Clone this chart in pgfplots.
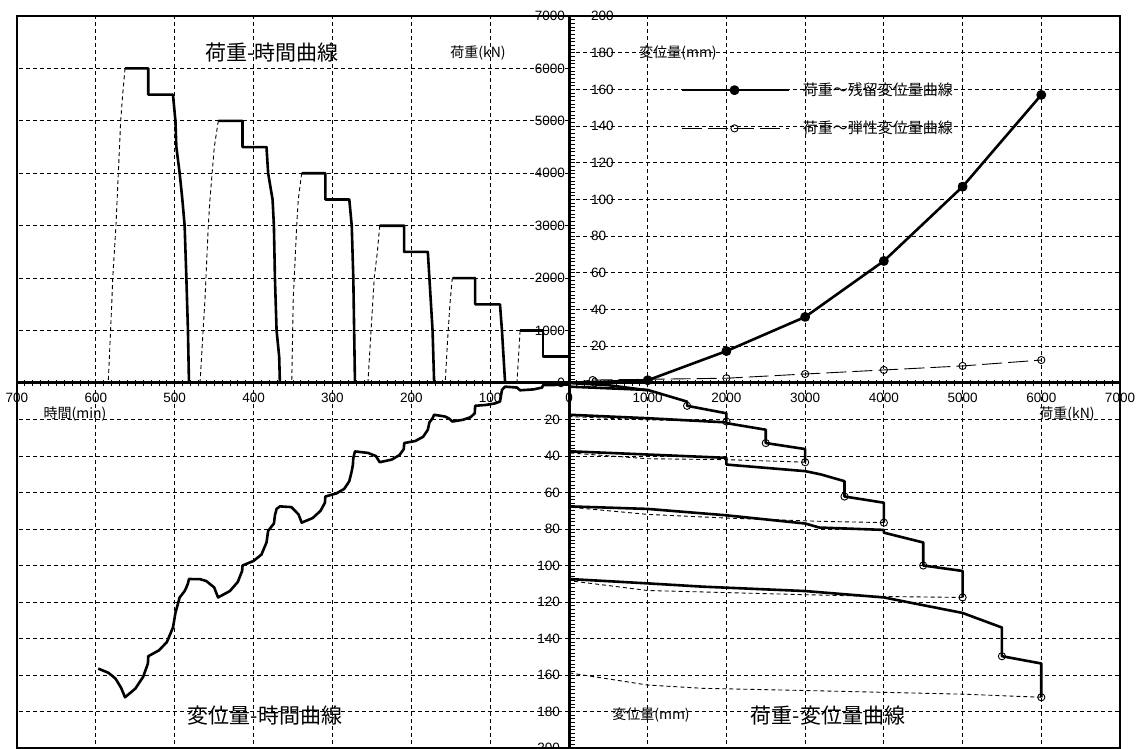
\documentclass[border=0pt]{standalone}
\usepackage{pgfplots}
\pgfplotsset{compat=1.18}
\usepackage{fontspec}
\setmainfont{Liberation Sans}
\newfontfamily\jp{Noto Sans CJK JP}
\begin{document}
\begin{tikzpicture}[x=1pt,y=1pt]
\useasboundingbox (0,0) rectangle (1148,749);
\pgfplotsset{
  quad/.style={
    scale only axis,
    axis line style={draw=none},
    grid=major,
    major grid style={black, line width=0.8pt, dash pattern=on 4pt off 3pt},
    tick style={black, line width=0.8pt},
    major tick length=6pt, minor tick length=6pt,
    tick align=center,
    ticklabel style={font=\fontsize{13.5}{13.5}\selectfont, inner sep=2pt},
    /pgf/number format/assume math mode=true,
    /pgf/number format/1000 sep={},
  },
  thk/.style={black, line width=2.6pt, line join=round},
  dsh/.style={black, line width=0.9pt, dash pattern=on 4pt off 3pt},
  eldash/.style={black, line width=0.9pt, dash pattern=on 20pt off 6pt},
}
% ---------- load - time (upper left) ----------
\begin{axis}[quad, at={(17pt,366pt)}, anchor=south west, width=552pt, height=367pt,
  xmin=0, xmax=700, x dir=reverse, ymin=0, ymax=7000,
  xtick={100,200,...,700}, ytick={0,1000,...,7000},
  minor x tick num=9, xtick pos=bottom,
  ytick style={draw=none}, yticklabel pos=right,
  yticklabel style={anchor=east, xshift=-5pt},
  xticklabel style={yshift=-5pt}]
\addplot[thk] coordinates {(0,0)(0,500)(33,500)(33,1000)(62,1000)};
\addplot[dsh] coordinates {(62,1000)(64,500)(66,0)};
\addplot[thk] coordinates {(81,0)(83,500)(85,1000)(87.5,1500)(119,1500)(119,2000)(148,2000)};
\addplot[dsh] coordinates {(148,2000)(151,1500)(154,800)(157,0)};
\addplot[thk] coordinates {(171,0)(173,1000)(175,1500)(177,2000)(179,2500)(209,2500)(209,3000)(240,3000)};
\addplot[dsh] coordinates {(240,3000)(243,2500)(247,2000)(251,1000)(255,0)};
\addplot[thk] coordinates {(271.4,0)(273.5,2000)(275.5,3000)(278.6,3500)(309,3500)(309,4000)(339,4000)};
\addplot[dsh] coordinates {(339,4000)(343.3,3500)(345.3,3000)(349.7,1600)(351.6,0)};
\addplot[thk] coordinates {(366.6,0)(367.5,500)(370.8,1000)(372.9,2000)(374.2,3000)(375.9,3500)(381.5,4000)(383.6,4500)(414,4500)(414,5000)(444.7,5000)};
\addplot[dsh] coordinates {(444.7,5000)(449.8,4500)(455.3,3500)(457.4,3000)(461.6,1600)(467.9,0)};
\addplot[thk] coordinates {(481.9,0)(483.2,1000)(485.2,2000)(487.4,3000)(490.3,3500)(493.7,4000)(497.9,4500)(499.1,5000)(502.2,5500)(533.5,5500)(533.5,6000)(563,6000)};
\addplot[dsh] coordinates {(563,6000)(566,5500)(568.5,5000)(571.5,4000)(574.5,3000)(578.6,2000)(580,1450)(584.3,0)};
\end{axis}
% ---------- load - residual / elastic displacement (upper right) ----------
\begin{axis}[quad, at={(569pt,366pt)}, anchor=south west, width=551pt, height=367pt,
  xmin=0, xmax=7000, ymin=0, ymax=200,
  xtick={0,1000,...,7000}, ytick={0,20,...,200},
  minor x tick num=9, minor y tick num=9,
  xtick pos=bottom, ytick pos=left,
  xtick align=center, ytick align=inside,
  yticklabel style={anchor=west, xshift=20pt},
  xticklabel style={yshift=-5pt},
  legend style={draw=none, fill=none, at={(0.196,0.826)}, anchor=north west,
    font=\jp\fontsize{15}{15}\selectfont, row sep=22pt,
    nodes={inner sep=1pt},
    /tikz/every odd column/.append style={column sep=12pt}},
  legend cell align=left,
  legend image code/.code={\draw[mark repeat=2,mark phase=2,#1] plot coordinates {(0pt,0pt)(53pt,0pt)(107pt,0pt)};}]
\addplot[thk, mark=*, mark size=3.6pt] coordinates {(1000,1.5)(2000,17.4)(3000,36)(4000,66.5)(5000,107)(6000,157)};
\addlegendentry{荷重～残留変位量曲線}
\addplot[eldash, mark=o, mark size=3.6pt, mark options={solid}] coordinates {(300,1.6)(2000,2.6)(3000,4.9)(4000,7.1)(5000,9.3)(6000,12.5)};
\addlegendentry{荷重～弾性変位量曲線}
% first stretch of both curves, from the origin
\addplot[thk, forget plot] coordinates {(0,0)(1000,1.5)};
\addplot[eldash, forget plot] coordinates {(0,0)(300,1.6)};
\end{axis}
% ---------- displacement - time (lower left) ----------
\begin{axis}[quad, at={(17pt,366pt)}, anchor=north west, width=552pt, height=365pt,
  xmin=0, xmax=700, x dir=reverse, ymin=0, ymax=200, y dir=reverse,
  xtick={100,200,...,700}, xticklabels={}, xtick style={draw=none},
  ytick={20,40,...,200}, yticklabel pos=right, ytick style={draw=none},
  yticklabel style={anchor=east, xshift=-10pt}]
\addplot[thk] coordinates {
 (0,0)(1,0.8)(10,1)(33,1.2)(34,2.5)(45,3.5)(62,4)(66,2.5)(81,2)
 (83,2.8)(85,3.8)(87.5,10.2)(95,11.3)(105,12)(119,12.5)(119.5,16.6)(125,18.8)(135,20.2)(148,21.1)(152,19.5)(157,18.4)
 (171,17.4)(173,19.3)(177,21.6)(179,25.6)(185,29.5)(195,31.8)(209,32.9)(209.5,36.2)(215,39.5)(225,42)(240,43.4)(245,40)(255,38.3)
 (271.4,37.5)(273.5,41)(274,44.7)(275.5,48.3)(278.6,53.8)(285,58)(295,60.5)(309,62.2)(309.5,65.6)(315,70)(325,74)(339,76.5)(343,72)(352,68)
 (366.6,67.6)(370.8,69)(372.9,72.5)(374.2,77)(381.5,81)(383.6,87.4)(390,94)(400,97.5)(414,100)(414.5,103)(420,109)(430,114)(445,117.5)(450,112)(460,108.5)(468,107.5)
 (481.9,107.4)(483.2,109.8)(485.2,112)(487.4,114)(493.7,117.5)(499.1,126)(502.2,134)(510,142)(520,146.5)(533.5,149.7)(534,153.7)(540,161)(550,167.5)(563,172.2)(568,167)(575,162)(584,158.8)(597,156.5)};
\end{axis}
% ---------- load - displacement (lower right) ----------
\begin{axis}[quad, at={(569pt,366pt)}, anchor=north west, width=551pt, height=365pt,
  xmin=0, xmax=7000, ymin=0, ymax=200, y dir=reverse,
  xtick={1000,2000,...,7000}, xticklabels={}, xtick style={draw=none},
  ytick={20,40,...,200}, yticklabels={}, minor y tick num=9,
  ytick pos=left, ytick align=inside]
\addplot[thk] coordinates {(0,0)(500,1.2)(1000,4)};
\addplot[dsh] coordinates {(1000,4)(0,2)};
\addplot[thk] coordinates {(0,2)(1000,3.8)(1500,10.2)(1500,12.5)(2000,16.6)(2000,21.1)};
\addplot[dsh] coordinates {(2000,21.1)(1000,20.2)(0,18.4)};
\addplot[thk] coordinates {(0,17.4)(1000,19.3)(2000,21.6)(2000,22)(2500,25.6)(2500,32.9)(3000,36.2)(3000,43.4)};
\addplot[dsh] coordinates {(3000,43.4)(2000,42)(1000,41.5)(0,38.3)};
\addplot[thk] coordinates {(0,37.4)(1000,39.2)(2000,41)(2000,44.7)(3000,48.3)(3200,50.1)(3500,53.8)(3500,62.2)(4000,65.6)(4000,76.5)};
\addplot[dsh] coordinates {(4000,76.5)(3200,75.8)(2000,74)(1000,72)(0,68)};
\addplot[thk] coordinates {(0,67.6)(1000,69)(2000,72.5)(3000,77)(3180,79.2)(4000,80.5)(4000,82)(4500,87.4)(4500,100)(5000,103)(5000,117.5)};
\addplot[dsh] coordinates {(5000,117.5)(4000,117)(3000,116)(1700,114.5)(1000,113.7)(0,108.3)};
\addplot[thk] coordinates {(0,107.4)(1000,109.8)(1700,111.6)(3000,114)(4000,117.5)(5000,126)(5500,134)(5500,149.7)(6000,153.7)(6000,172.2)};
\addplot[dsh] coordinates {(6000,172.2)(5000,170.5)(4000,169.5)(3000,168.5)(1700,167.3)(1000,165.5)(0,158.8)};
\addplot[only marks, mark=o, mark size=3.6pt, black, line width=0.9pt, fill=white] coordinates {(1500,12.5)(2000,21.1)(2500,32.9)(3000,43.4)(3500,62.2)(4000,76.5)(4500,100)(5000,117.5)(5500,149.7)(6000,172.2)};
\end{axis}
% frame and the two central axes
\draw[black, line width=2.4pt] (17,1) rectangle (1120,733);
\draw[black, line width=3pt] (17,366) -- (1120,366);
\draw[black, line width=3pt] (569,1) -- (569,733);
% titles and axis names
\node[font=\jp\fontsize{21}{21}\selectfont] at (272,696) {荷重-時間曲線};
\node[font=\jp\fontsize{21}{21}\selectfont] at (265,33) {変位量-時間曲線};
\node[font=\jp\fontsize{21}{21}\selectfont] at (828,33) {荷重-変位量曲線};
\node[font=\jp\fontsize{14}{14}\selectfont] at (478,696) {荷重(kN)};
\node[font=\jp\fontsize{14}{14}\selectfont] at (678,696) {変位量(mm)};
\node[font=\jp\fontsize{14}{14}\selectfont] at (75,335) {時間(min)};
\node[font=\jp\fontsize{14}{14}\selectfont] at (1067,335) {荷重(kN)};
\node[font=\jp\fontsize{14}{14}\selectfont] at (651,34) {変位量(mm)};
\end{tikzpicture}
\end{document}
